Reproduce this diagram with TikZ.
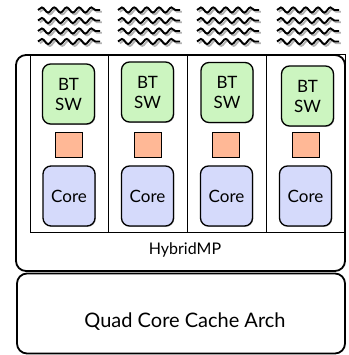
\documentclass[tikz,border=0pt]{standalone}
\usepackage{fontspec}
\setmainfont{Lato}
\usetikzlibrary{decorations.pathmorphing,shadows}
\definecolor{btgreen}{RGB}{204,245,192}
\definecolor{coreblue}{RGB}{213,218,251}
\definecolor{salmon}{RGB}{255,184,150}
\begin{document}
\begin{tikzpicture}[x=1pt,y=-1pt,
  bigbox/.style={draw=black,line width=1.8pt,rounded corners=10pt,inner sep=0pt},
  colbox/.style={draw=black,line width=1pt,minimum width=79pt,minimum height=177pt,inner sep=0pt},
  soft/.style={drop shadow={shadow xshift=0.8pt,shadow yshift=-0.8pt,opacity=0.3,fill=black}},
  btbox/.style={soft,draw=black,line width=1.3pt,fill=btgreen,rounded corners=8pt,minimum width=52pt,minimum height=60pt,inner sep=0pt,align=center,font=\fontsize{17}{20}\selectfont},
  corebox/.style={soft,draw=black,line width=1.3pt,fill=coreblue,rounded corners=8pt,minimum width=52pt,minimum height=60pt,inner sep=0pt,font=\fontsize{17}{20}\selectfont},
  sqbox/.style={draw=black,line width=1pt,fill=salmon,minimum width=27pt,minimum height=25pt,inner sep=0pt},
  lbl/.style={font=\fontsize{16}{19}\selectfont,inner sep=0pt},
  wave/.style={line width=1.9pt,decorate,decoration={snake,segment length=12.4pt,amplitude=2.6pt}}
]
\useasboundingbox (0,0) rectangle (348,355);
% waves
\foreach \gx in {38,118,197,277}{
  \foreach \gy in {10,20.5,31,41.5}{
    \draw[wave,black!30] (\gx+1.8,\gy+1.8) -- ++(62,0);
    \draw[wave,black] (\gx,\gy) -- ++(62,0);
  }
}
% big boxes
\node[bigbox,minimum width=329pt,minimum height=216pt] (hybrid) at (180.5,163) {};
\node[bigbox,minimum width=328pt,minimum height=80pt] (cache) at (181,313.5) {};
\node[lbl] (hlabel) at (185,250) {HybridMP};
\node[lbl,font=\fontsize{20}{24}\selectfont] (clabel) at (185,322) {Quad Core Cache Arch};
% columns
\node[colbox,minimum width=78pt] (col1) at (69,143.5) {};
\node[colbox] (col2) at (147.5,143.5) {};
\node[colbox] (col3) at (226.5,143.5) {};
\node[colbox] (col4) at (305.5,143.5) {};
% BT SW boxes
\node[btbox] (bt1) at (68.5,94) {BT\\SW};
\node[btbox] (bt2) at (147.5,92) {BT\\SW};
\node[btbox] (bt3) at (227,92.5) {BT\\SW};
\node[btbox] (bt4) at (307.5,96) {BT\\SW};
% squares
\node[sqbox] (sq1) at (68.5,145.5) {};
\node[sqbox] (sq2) at (147.5,145.5) {};
\node[sqbox] (sq3) at (226,145.5) {};
\node[sqbox] (sq4) at (305.5,145.5) {};
% cores
\node[corebox] (core1) at (69,196) {Core};
\node[corebox] (core2) at (147.5,196) {Core};
\node[corebox] (core3) at (226.5,196) {Core};
\node[corebox] (core4) at (305.5,196) {Core};
\end{tikzpicture}
\end{document}
